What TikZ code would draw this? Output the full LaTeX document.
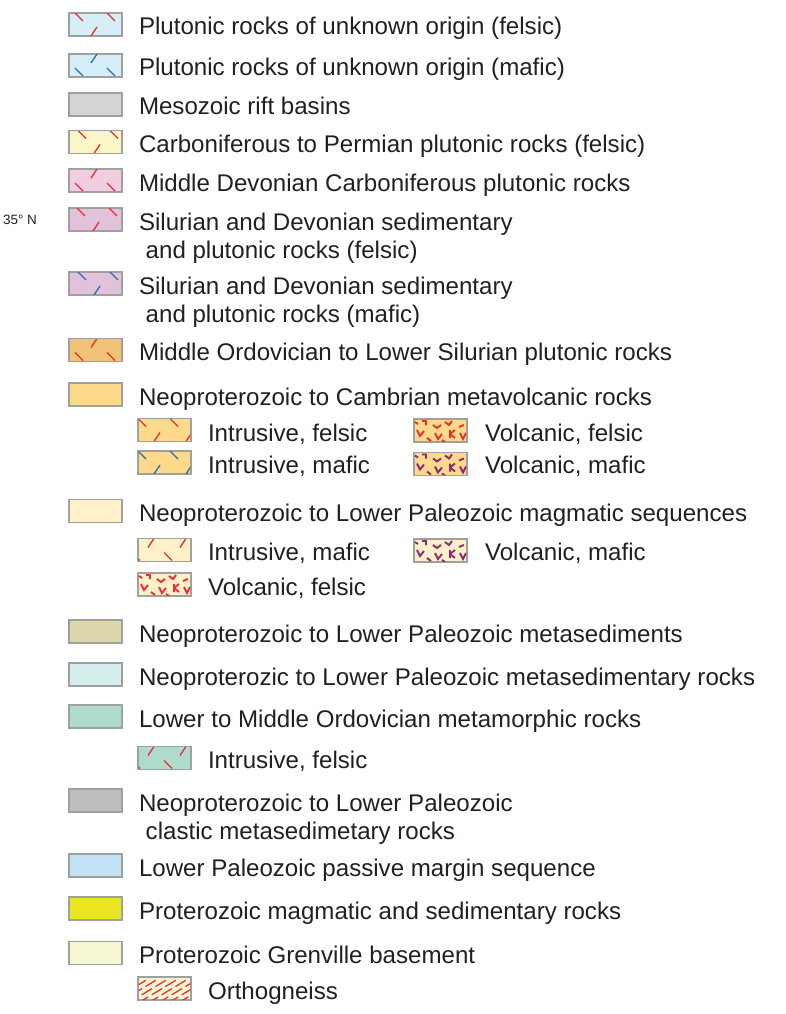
\documentclass[tikz,border=0pt]{standalone}
\usepackage{fontspec}
\setmainfont{Liberation Sans}
\usepackage{xcolor}
\usepackage{tikz}
\usetikzlibrary{positioning}

\definecolor{txtgray}{RGB}{35,31,32}
\definecolor{boxgray}{RGB}{160,160,160}
\definecolor{tickred}{RGB}{236,45,50}
\definecolor{tickblue}{RGB}{40,110,180}
\definecolor{volcpurple}{RGB}{140,40,120}
\definecolor{plutblue}{RGB}{214,238,248}
\definecolor{riftgray}{RGB}{211,212,212}
\definecolor{carbyellow}{RGB}{251,246,200}
\definecolor{devpink}{RGB}{242,205,225}
\definecolor{silpurple}{RGB}{226,194,218}
\definecolor{ordorange}{RGB}{240,195,118}
\definecolor{cambrian}{RGB}{253,217,140}
\definecolor{magcream}{RGB}{254,240,200}
\definecolor{sedtan}{RGB}{220,214,170}
\definecolor{sedcyan}{RGB}{214,238,238}
\definecolor{ordmint}{RGB}{175,219,204}
\definecolor{clastgray}{RGB}{188,190,192}
\definecolor{passblue}{RGB}{194,227,245}
\definecolor{protyellow}{RGB}{234,230,35}
\definecolor{grenville}{RGB}{246,246,210}

% fill patterns, drawn from the swatch's top left corner and clipped to it
\newcommand{\pat}[2]{\begin{scope}[shift={(#1.north west)}]\clip (0.6,0.6) rectangle (52.4,22.4);#2\end{scope}}
\newcommand{\ticks}[3]{%
  \foreach \tx in {-32,0,32}{%
    \draw[#1, line width=1.3pt] (\tx+#2+6,#3) -- ++(8,8);
    \draw[#1, line width=1.3pt] (\tx+#2+22,23-#3) -- ++(6,-9);
  }}
\newcommand{\volc}[1]{%
  \draw[#1, line width=1.9pt]
    (3,11) -- (6,17) -- (10,12) (8,2) -- (12,2) -- (12,6)
    (19,6) -- (23,9) -- (27,6) (21,14) -- (24,20) -- (28,15)
    (31,3) -- (35,6) -- (38,2) (36,11) -- (36,19) (36,15) -- (41,11) (36,15) -- (41,19)
    (45,8) -- (50,6) (46,14) -- (49,20) -- (52,14) (13,19) -- (17,22) (28,21) -- (31,23)
    (1,3) -- (4,5);}
\newcommand{\gneisslines}{%
  \foreach \k in {-40,-30,...,50}
    \draw[tickred, line width=1.3pt, dash pattern=on 12pt off 4pt] (\k,26) -- ++(40,-24);}

\begin{document}
\begin{tikzpicture}[x=1pt, y=-1pt,
    every node/.style={inner sep=0pt, outer sep=0pt},
    box/.style={draw=boxgray, line width=1.3pt, minimum width=53pt, minimum height=23pt},
    lbl/.style={anchor=base west, font=\fontsize{24.1}{28.3}\selectfont, text=txtgray, align=left}]
  \useasboundingbox (0,0) rectangle (785,1014);

  \node[anchor=base west, font=\fontsize{13.5}{16}\selectfont, text=txtgray] (lat) at (3,224.8) {35° N};

  \node[box, fill=plutblue] (s1) at (95.5,24.5) {};
  \pat{s1}{\ticks{tickred}{0}{0}}
  \node[lbl] (t1) at (139,35) {Plutonic rocks of unknown origin (felsic)};
  \node[box, fill=plutblue] (s2) at (95.5,65.5) {};
  \pat{s2}{\ticks{tickblue}{0}{14}}
  \node[lbl] (t2) at (139,75.5) {Plutonic rocks of unknown origin (mafic)};
  \node[box, fill=riftgray] (s3) at (95.5,104.5) {};
  \node[lbl] (t3) at (139,115) {Mesozoic rift basins};
  \node[box, fill=carbyellow] (s4) at (95.5,142) {};
  \pat{s4}{\ticks{tickred}{3}{0}}
  \node[lbl] (t4) at (139,152.5) {Carboniferous to Permian plutonic rocks (felsic)};
  \node[box, fill=devpink] (s5) at (95.5,180.5) {};
  \pat{s5}{\ticks{tickred}{0}{14}}
  \node[lbl] (t5) at (139,191) {Middle Devonian Carboniferous plutonic rocks};
  \node[box, fill=silpurple] (s6) at (95.5,219.5) {};
  \pat{s6}{\ticks{tickred}{2}{0}}
  \node[lbl] (t6) at (139,258.8) {Silurian and Devonian sedimentary\\\hspace*{6.7pt}and plutonic rocks (felsic)};
  \node[box, fill=silpurple] (s7) at (95.5,283.5) {};
  \pat{s7}{\ticks{tickblue}{3}{0}}
  \node[lbl] (t7) at (139,322.8) {Silurian and Devonian sedimentary\\\hspace*{6.7pt}and plutonic rocks (mafic)};
  \node[box, fill=ordorange] (s8) at (95.5,350) {};
  \pat{s8}{\ticks{tickred}{0}{14}}
  \node[lbl] (t8) at (139,360.5) {Middle Ordovician to Lower Silurian plutonic rocks};
  \node[box, fill=cambrian] (s9) at (95.5,394.5) {};
  \node[lbl] (t9) at (139,405) {Neoproterozoic to Cambrian metavolcanic rocks};
  \node[box, fill=cambrian] (s9a) at (164.5,430) {};
  \pat{s9a}{\ticks{tickred}{26}{0}}
  \node[lbl] (t9a) at (208,441) {Intrusive, felsic};
  \node[box, fill=cambrian] (s9b) at (164.5,462.5) {};
  \pat{s9b}{\ticks{tickblue}{26}{0}}
  \node[lbl] (t9b) at (208,473) {Intrusive, mafic};
  \node[box, fill=cambrian] (s9c) at (440.5,430.5) {};
  \pat{s9c}{\volc{tickred}}
  \node[lbl] (t9c) at (485,441) {Volcanic, felsic};
  \node[box, fill=cambrian] (s9d) at (440.5,464) {};
  \pat{s9d}{\volc{volcpurple}}
  \node[lbl] (t9d) at (485,473.5) {Volcanic, mafic};
  \node[box, fill=magcream] (s10) at (95.5,511) {};
  \node[lbl] (t10) at (139,521.5) {Neoproterozoic to Lower Paleozoic magmatic sequences};
  \node[box, fill=magcream] (s10a) at (164.5,550) {};
  \pat{s10a}{\ticks{tickred}{20}{14}}
  \node[lbl] (t10a) at (208,560.5) {Intrusive, mafic};
  \node[box, fill=magcream] (s10b) at (440.5,550.5) {};
  \pat{s10b}{\volc{volcpurple}}
  \node[lbl] (t10b) at (485,560.5) {Volcanic, mafic};
  \node[box, fill=magcream] (s10c) at (164.5,584.5) {};
  \pat{s10c}{\volc{tickred}}
  \node[lbl] (t10c) at (208,595) {Volcanic, felsic};
  \node[box, fill=sedtan] (s11) at (95.5,631.5) {};
  \node[lbl] (t11) at (139,642) {Neoproterozoic to Lower Paleozoic metasediments};
  \node[box, fill=sedcyan] (s12) at (95.5,674.5) {};
  \node[lbl] (t12) at (139,685) {Neoproterozic to Lower Paleozoic metasedimentary rocks};
  \node[box, fill=ordmint] (s13) at (95.5,716.5) {};
  \node[lbl] (t13) at (139,727) {Lower to Middle Ordovician metamorphic rocks};
  \node[box, fill=ordmint] (s13a) at (164.5,758) {};
  \pat{s13a}{\ticks{tickred}{20}{14}}
  \node[lbl] (t13a) at (208,768.5) {Intrusive, felsic};
  \node[box, fill=clastgray] (s14) at (95.5,800.5) {};
  \node[lbl] (t14) at (139,839.3) {Neoproterozoic to Lower Paleozoic\\\hspace*{6.7pt}clastic metasedimetary rocks};
  \node[box, fill=passblue] (s15) at (95.5,865.5) {};
  \node[lbl] (t15) at (139,876) {Lower Paleozoic passive margin sequence};
  \node[box, fill=protyellow] (s16) at (95.5,908.5) {};
  \node[lbl] (t16) at (139,919) {Proterozoic magmatic and sedimentary rocks};
  \node[box, fill=grenville] (s17) at (95.5,953) {};
  \node[lbl] (t17) at (139,963.5) {Proterozoic Grenville basement};
  \node[box, fill=grenville] (s17a) at (164.5,988.5) {};
  \pat{s17a}{\gneisslines}
  \node[lbl] (t17a) at (208,999) {Orthogneiss};
\end{tikzpicture}
\end{document}
